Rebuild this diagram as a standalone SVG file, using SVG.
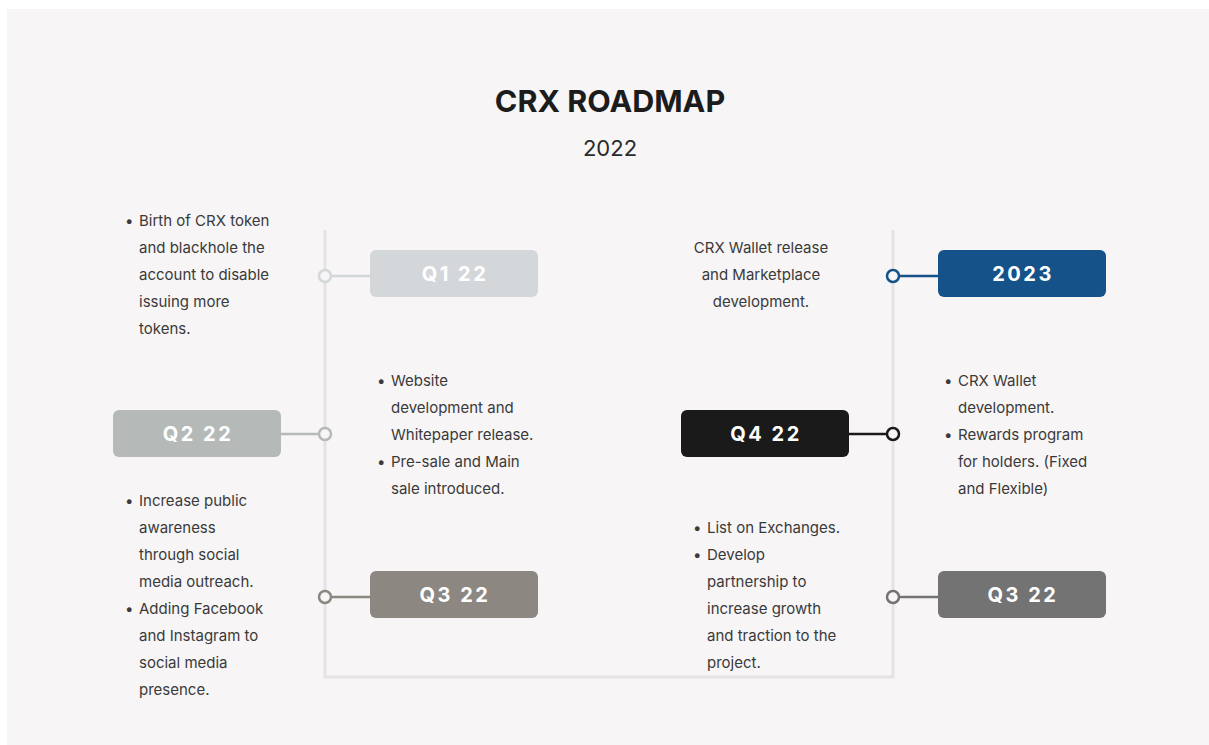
<svg xmlns="http://www.w3.org/2000/svg" width="1209" height="745" viewBox="0 0 1209 745">
<style>
.t{font-family:Inter,"Noto Sans",sans-serif;font-size:15px;fill:#3a3a3a}
.lbl{font-family:Inter,"Noto Sans",sans-serif;font-size:20px;font-weight:700;letter-spacing:2.5px;fill:#ffffff;text-anchor:middle}
.frame{fill:none;stroke:#e5e3e4;stroke-width:3}
.dot{fill:#f7f5f6;stroke-width:2.5}
.conn{stroke-width:2.5}
</style>
<rect x="0" y="0" width="1209" height="745" fill="#ffffff"/>
<rect x="7" y="9" width="1202" height="736" fill="#f7f5f6"/>
<g id="title">
<text x="610" y="112" font-family="Inter,'Noto Sans',sans-serif" font-size="30.5" font-weight="700" fill="#1c1c1c" text-anchor="middle">CRX ROADMAP</text>
<text x="610" y="156" font-family="Inter,'Noto Sans',sans-serif" font-size="22" fill="#2a2a2a" text-anchor="middle">2022</text>
</g>
<g id="connectors">
<path class="frame" d="M325 230 V677 H893 V230"/>
<line class="conn" x1="331" y1="276" x2="370" y2="276" stroke="#d4d7da"/>
<line class="conn" x1="281" y1="434" x2="319" y2="434" stroke="#b5bab9"/>
<line class="conn" x1="331" y1="597" x2="370" y2="597" stroke="#8d8782"/>
<line class="conn" x1="899" y1="276" x2="938" y2="276" stroke="#155289"/>
<line class="conn" x1="849" y1="434" x2="887" y2="434" stroke="#1a1a1a"/>
<line class="conn" x1="899" y1="597" x2="938" y2="597" stroke="#737373"/>
<circle class="dot" cx="325" cy="276" r="6" stroke="#d4d7da"/>
<circle class="dot" cx="325" cy="434" r="6" stroke="#b5bab9"/>
<circle class="dot" cx="325" cy="597" r="6" stroke="#8d8782"/>
<circle class="dot" cx="893" cy="276" r="6" stroke="#155289"/>
<circle class="dot" cx="893" cy="434" r="6" stroke="#1a1a1a"/>
<circle class="dot" cx="893" cy="597" r="6" stroke="#737373"/>
</g>
<g id="q1">
<rect x="370" y="250" width="168" height="47" rx="6" fill="#d4d7da"/>
<text class="lbl" x="455" y="281" fill="#f4f4f4">Q1 22</text>
</g>
<g id="q2">
<rect x="113" y="410" width="168" height="47" rx="6" fill="#b5bab9"/>
<text class="lbl" x="198" y="441">Q2 22</text>
</g>
<g id="q3-left">
<rect x="370" y="571" width="168" height="47" rx="6" fill="#8d8782"/>
<text class="lbl" x="455" y="602">Q3 22</text>
</g>
<g id="y2023">
<rect x="938" y="250" width="168" height="47" rx="6" fill="#155289"/>
<text class="lbl" x="1023" y="281">2023</text>
</g>
<g id="q4">
<rect x="681" y="410" width="168" height="47" rx="6" fill="#1a1a1a"/>
<text class="lbl" x="766" y="441">Q4 22</text>
</g>
<g id="q3-right">
<rect x="938" y="571" width="168" height="47" rx="6" fill="#737373"/>
<text class="lbl" x="1023" y="602">Q3 22</text>
</g>
<g id="text-q1" class="t">
<text x="125" y="226">•</text>
<text x="139" y="226">Birth of CRX token</text>
<text x="139" y="253">and blackhole the</text>
<text x="139" y="280">account to disable</text>
<text x="139" y="307">issuing more</text>
<text x="139" y="334">tokens.</text>
</g>
<g id="text-2023" class="t" text-anchor="middle">
<text x="761" y="253">CRX Wallet release</text>
<text x="761" y="280">and Marketplace</text>
<text x="761" y="307">development.</text>
</g>
<g id="text-q2" class="t">
<text x="377" y="386">•</text>
<text x="391" y="386">Website</text>
<text x="391" y="413">development and</text>
<text x="391" y="440">Whitepaper release.</text>
<text x="377" y="467">•</text>
<text x="391" y="467">Pre-sale and Main</text>
<text x="391" y="494">sale introduced.</text>
</g>
<g id="text-q4" class="t">
<text x="944" y="386">•</text>
<text x="958" y="386">CRX Wallet</text>
<text x="958" y="413">development.</text>
<text x="944" y="440">•</text>
<text x="958" y="440">Rewards program</text>
<text x="958" y="467">for holders. (Fixed</text>
<text x="958" y="494">and Flexible)</text>
</g>
<g id="text-q3-left" class="t">
<text x="125" y="506">•</text>
<text x="139" y="506">Increase public</text>
<text x="139" y="533">awareness</text>
<text x="139" y="560">through social</text>
<text x="139" y="587">media outreach.</text>
<text x="125" y="614">•</text>
<text x="139" y="614">Adding Facebook</text>
<text x="139" y="641">and Instagram to</text>
<text x="139" y="668">social media</text>
<text x="139" y="695">presence.</text>
</g>
<g id="text-q3-right" class="t">
<text x="693" y="533">•</text>
<text x="707" y="533">List on Exchanges.</text>
<text x="693" y="560">•</text>
<text x="707" y="560">Develop</text>
<text x="707" y="587">partnership to</text>
<text x="707" y="614">increase growth</text>
<text x="707" y="641">and traction to the</text>
<text x="707" y="668">project.</text>
</g>
</svg>
